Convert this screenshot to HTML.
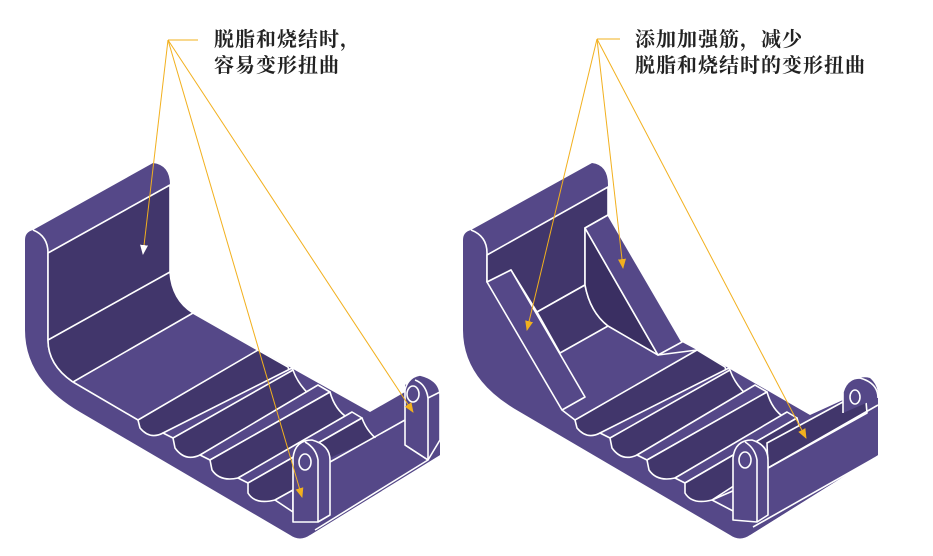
<!DOCTYPE html>
<html><head><meta charset="utf-8"><style>
html,body{margin:0;padding:0;background:#fff;}
svg{display:block;}
text{font-family:"Liberation Serif","Noto Serif CJK SC",serif;font-weight:bold;font-size:20px;letter-spacing:1px;fill:#222;}
</style></head><body>
<svg width="933" height="556" viewBox="0 0 933 556" xmlns="http://www.w3.org/2000/svg">
<defs>
<marker id="ao" markerWidth="10" markerHeight="10" refX="9" refY="5" orient="auto" markerUnits="userSpaceOnUse">
<path d="M0,1 L10,5 L0,9 Z" fill="#f2b01e"/></marker>
<marker id="aw" markerWidth="10" markerHeight="10" refX="9" refY="5" orient="auto" markerUnits="userSpaceOnUse">
<path d="M0,1 L10,5 L0,9 Z" fill="#fff"/></marker>
</defs>
<g stroke="#fff" stroke-width="1.6" stroke-linejoin="round">
<!-- LEFT FIGURE -->
<path d="M25,240 Q25,232 33,230 L153,163 Q170,165 170,185 L170,272 Q172,300 193,313 L370,412 L405,392 L405,385 Q420,372 440,390 L440,455 L310,535 Q300,542 290,535 L80,412 Q25,380 25,330 Z" fill="#554888" stroke="none"/>
<path d="M33,230 Q48,236 48,253 L48,340 Q48,365 73,382" fill="none"/>
<path d="M48,253 L170,185 L170,272 Q172,300 193,313 L73,382 Q48,365 48,340 Z" fill="#41366b"/>
<path d="M48,340 L170,272" fill="none"/>
<path d="M73,382 L138,420 M193,313 L258,350" fill="none"/>
<path d="M138,420 L258,350 L288,367 Q292,380 300,390 L163,433 Q150,440 140,428 Z" fill="#41366b"/>
<path d="M163,433 L173,438 L300,390 L292,368 Z" fill="#554888"/>
<path d="M173,438 L293,370 Q298,385 313,398 L200,455 Q185,462 175,448 Z" fill="#41366b"/>
<path d="M200,455 L210,460 L330,392 L318,385 Z" fill="#554888"/>
<path d="M210,460 L330,392 Q335,410 348,418 L238,478 Q220,482 212,470 Z" fill="#41366b"/>
<path d="M238,478 L248,483 L362,418 L352,412 Z" fill="#554888"/>
<path d="M248,483 L362,418 Q368,435 385,445 L275,500 Q255,505 248,493 Z" fill="#41366b"/>
<path d="M275,500 L293,512 L293,490 Z" fill="#554888"/>
<path d="M318,463 L398,428 L440,455 L310,535 Z" fill="#554888" stroke="none"/>
<path d="M330,462 L405,420 M315,530 L428,460" fill="none"/>
<path d="M293,522 L293,458 Q295,440 312,440 Q330,445 330,460 L330,515 L318,522 Z" fill="#554888"/>
<path d="M318,522 L318,460 Q316,448 305,442" fill="none"/>
<ellipse cx="305" cy="462" rx="6" ry="8" fill="#554888"/>
<path d="M405,445 L405,390 Q408,377 420,375 Q440,380 440,395 L440,440 L428,460 Z" fill="#554888"/>
<path d="M428,460 L428,398 Q426,384 415,380 M428,398 L440,392" fill="none"/>
<ellipse cx="413" cy="394" rx="6" ry="8" fill="#554888"/>
<path d="M405,445 L428,460" fill="none"/>

<!-- RIGHT FIGURE -->
<path d="M463,240 Q463,232 471,230 L592,163 Q608,165 608,185 L608,215 L682,342 L697,350 L810,415 L843,400 L843,392 Q855,374 870,378 Q878,385 878,395 L878,455 L750,535 Q740,542 730,535 L520,412 Q463,380 463,330 Z" fill="#554888" stroke="none"/>
<path d="M471,230 Q487,236 487,253 L487,282" fill="none"/>
<path d="M487,255 L608,187 L608,215 L585,228 L585,285 L537,312 L511,270 L487,282 Z" fill="#41366b"/>
<path d="M537,312 L585,285 Q590,312 608,326 L560,353 Z" fill="#41366b"/>
<path d="M585,228 L658,355 L608,326 Q590,312 585,285 Z" fill="#3a2f62"/>
<path d="M585,228 L608,215 L682,342 L658,355 Z" fill="#554888"/>
<path d="M487,282 L511,270 L585,397 L562,410 Z" fill="#554888"/>
<path d="M562,410 L575,420 M658,355 L697,350" fill="none"/>
<path d="M575,420 L697,350 L725,367 Q729,380 737,390 L600,433 Q587,440 577,428 Z" fill="#41366b"/>
<path d="M600,433 L610,438 L737,390 L729,368 Z" fill="#554888"/>
<path d="M610,438 L730,370 Q735,385 750,398 L637,455 Q622,462 612,448 Z" fill="#41366b"/>
<path d="M637,455 L647,460 L767,392 L755,385 Z" fill="#554888"/>
<path d="M647,460 L767,392 Q772,410 785,418 L675,478 Q657,482 649,470 Z" fill="#41366b"/>
<path d="M675,478 L685,483 L797,418 L787,412 Z" fill="#554888"/>
<path d="M685,483 L797,418 Q800,430 805,440 L712,500 Q692,505 685,493 Z" fill="#41366b"/>
<path d="M712,500 L735,512 L735,490 Z" fill="#554888"/>
<path d="M757,450 L850,398 L878,405 L878,455 L750,535 Z" fill="#554888" stroke="none"/>
<path d="M767,443 L865,390 L867,413 L768,468 Z" fill="#41366b"/>
<path d="M768,468 L878,405 M753,527 L875,458" fill="none"/>
<path d="M733,520 L733,458 Q735,440 752,440 Q768,445 768,460 L768,515 L757,522 Z" fill="#554888"/>
<path d="M757,522 L757,460 Q755,448 745,442" fill="none"/>
<ellipse cx="745" cy="460" rx="6" ry="8" fill="#554888"/>
<path d="M843,413 L843,392 Q847,378 860,378 Q878,383 878,398" fill="#554888"/>
<ellipse cx="855" cy="397" rx="5" ry="7" fill="#554888"/>
</g>

<g stroke="#f2b01e" stroke-width="1" fill="none">
<path d="M168,40 L198,40"/>
<path d="M168,40 L143,254" marker-end="url(#aw)"/>
<path d="M168,40 L302,497" marker-end="url(#ao)"/>
<path d="M168,40 L413,412" marker-end="url(#ao)"/>
<path d="M597,39 L620,39"/>
<path d="M597,39 L527,330" marker-end="url(#ao)"/>
<path d="M597,39 L623,268" marker-end="url(#ao)"/>
<path d="M597,39 L806,438" marker-end="url(#ao)"/>
</g>
<text x="214" y="46">脱脂和烧结时，</text>
<text x="214" y="72">容易变形扭曲</text>
<text x="635" y="46">添加加强筋，减少</text>
<text x="635" y="72">脱脂和烧结时的变形扭曲</text>
</svg>
</body></html>
